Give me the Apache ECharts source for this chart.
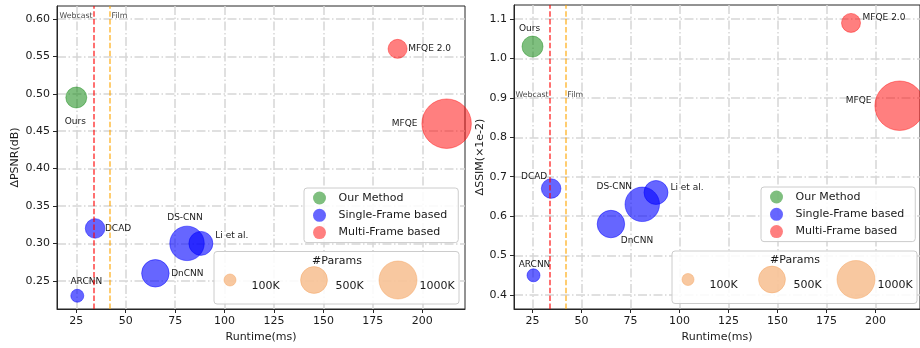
<!DOCTYPE html>
<html>
<head>
<meta charset="utf-8">
<script src="https://cdn.jsdelivr.net/npm/echarts@6/dist/echarts.min.js"></script>
<style>
html,body{margin:0;padding:0;background:#fff;}
#c{width:920px;height:348px;}
</style>
</head>
<body>
<div id="c"></div>
<script>
// ---------------- data ----------------
const methods = ['Ours', 'ARCNN', 'DCAD', 'DnCNN', 'DS-CNN', 'Li et al.', 'MFQE 2.0', 'MFQE'];
const groups  = ['Our Method', 'Single-Frame based', 'Single-Frame based', 'Single-Frame based',
                 'Single-Frame based', 'Single-Frame based', 'Multi-Frame based', 'Multi-Frame based'];
const runtimeMs = [25, 25.5, 34.5, 65, 81, 88, 187.5, 212.3];
const deltaPSNR = [0.495, 0.23, 0.32, 0.26, 0.30, 0.30, 0.56, 0.46];
const deltaSSIM = [1.03, 0.45, 0.67, 0.58, 0.63, 0.66, 1.09, 0.88];
const paramsK   = [306, 117, 265, 525, 825, 400, 251, 1700];
const groupNames = ['Our Method', 'Single-Frame based', 'Multi-Frame based'];
const refNames = ['Webcast', 'Film'];
const refRuntime = [34, 42];
const paramLegendK = [100, 500, 1000];
const paramLegendLabels = ['100K', '500K', '1000K'];
const xTicks = [25, 50, 75, 100, 125, 150, 175, 200];
const psnrTicks = [0.25, 0.30, 0.35, 0.40, 0.45, 0.50, 0.55, 0.60];
const ssimTicks = [0.4, 0.5, 0.6, 0.7, 0.8, 0.9, 1.0, 1.1];

// ---------------- styles / layout ----------------
const FONT = 'DejaVu Sans';
const TXT = '#1a1a1a';
const groupColors = {
  'Our Method': 'rgba(0,128,0,0.5)',
  'Single-Frame based': 'rgba(0,0,255,0.6)',
  'Multi-Frame based': 'rgba(255,0,0,0.5)'
};
const refColors = ['rgba(255,0,0,0.75)', 'rgba(255,165,0,0.75)'];
const peach = 'rgba(244,164,96,0.6)';
function bubble(pk) { return 12 * Math.sqrt(pk / 100); }

const panels = [
  {
    yName: 'ΔPSNR(dB)', values: deltaPSNR, ticks: psnrTicks, dec: 2,
    grid: {left: 57, top: 6, width: 408, height: 304},
    xMin: 15.24, xMax: 221.6, yMin: 0.2123, yMax: 0.6173, yNameGap: 36,
    refLabelY: 0.6044,
    offsets: {'Ours': [-1, 24], 'MFQE 2.0': [32, 0], 'MFQE': [-42, 0], 'DS-CNN': [-2, -26],
              'Li et al.': [31, -8], 'DCAD': [23, 0], 'DnCNN': [32, 0], 'ARCNN': [9, -14]},
    legend: {left: 304, top: 188},
    pbox: {x: 214, y: 251.5}
  },
  {
    yName: 'ΔSSIM(×1e-2)', values: deltaSSIM, ticks: ssimTicks, dec: 1,
    grid: {left: 514, top: 5, width: 410, height: 305},
    xMin: 15.55, xMax: 222.7, yMin: 0.3646, yMax: 1.1354, yNameGap: 20,
    refLabelY: 0.908,
    offsets: {'Ours': [-3, -18], 'MFQE 2.0': [33, -5], 'MFQE': [-41, -5], 'DCAD': [-17, -12],
              'DS-CNN': [-28, -18], 'Li et al.': [31, -5], 'DnCNN': [26, 17], 'ARCNN': [1, -11]},
    legend: {left: 761, top: 187},
    pbox: {x: 672, y: 251}
  }
];

const grids = [], xAxes = [], yAxes = [], series = [], legends = [], graphics = [];
const gridLine = {show: true, lineStyle: {color: '#d6d6d6', width: 1.5, type: [9, 2.5, 1.5, 2.5]}};

panels.forEach((p, pi) => {
  grids.push(Object.assign({show: true, borderColor: '#262626', borderWidth: 1, backgroundColor: 'transparent'}, p.grid));
  xAxes.push({
    gridIndex: pi, type: 'value', min: p.xMin, max: p.xMax,
    name: 'Runtime(ms)', nameLocation: 'middle', nameGap: 23,
    nameTextStyle: {fontFamily: FONT, fontSize: 11, color: TXT},
    axisLine: {show: true, onZero: false, lineStyle: {color: '#262626', width: 1}},
    axisTick: {show: true, length: 4, customValues: xTicks, lineStyle: {color: '#262626'}},
    axisLabel: {customValues: xTicks, margin: 7, fontFamily: FONT, fontSize: 11, color: TXT,
                formatter: v => String(Math.round(v))},
    splitLine: gridLine
  });
  yAxes.push({
    gridIndex: pi, type: 'value', min: p.yMin, max: p.yMax,
    name: p.yName, nameLocation: 'middle', nameGap: p.yNameGap, nameRotate: 90,
    nameTextStyle: {fontFamily: FONT, fontSize: 11, color: TXT},
    axisLine: {show: true, onZero: false, lineStyle: {color: '#262626', width: 1}},
    axisTick: {show: true, length: 4, customValues: p.ticks, lineStyle: {color: '#262626'}},
    axisLabel: {customValues: p.ticks, margin: 7, fontFamily: FONT, fontSize: 11, color: TXT,
                formatter: v => v.toFixed(p.dec)},
    splitLine: gridLine
  });

  groupNames.forEach(g => {
    const data = [];
    methods.forEach((m, i) => {
      if (groups[i] !== g) return;
      data.push({
        name: m,
        value: [runtimeMs[i], p.values[i], paramsK[i]],
        label: {show: true, position: 'inside', offset: p.offsets[m], formatter: m,
                fontFamily: FONT, fontSize: 9, color: TXT}
      });
    });
    series.push({
      type: 'scatter', name: g, xAxisIndex: pi, yAxisIndex: pi,
      symbol: 'circle', symbolSize: v => bubble(v[2]),
      itemStyle: {color: groupColors[g], borderColor: groupColors[g], borderWidth: 0.8, opacity: 1},
      emphasis: {disabled: true}, silent: true, clip: true,
      data
    });
  });

  // reference lines (Webcast / Film)
  series.push({
    type: 'scatter', name: 'ref', xAxisIndex: pi, yAxisIndex: pi, symbolSize: 0, silent: true,
    data: refNames.map((n, i) => ({
      value: [refRuntime[i], p.refLabelY], name: n,
      label: {show: true, formatter: n, position: i === 0 ? 'left' : 'right', distance: 1.5,
              fontFamily: FONT, fontSize: 7.8, color: '#111'}
    })),
    markLine: {
      silent: true, symbol: ['none', 'none'], label: {show: false},
      data: refRuntime.map((x, i) => ({xAxis: x, lineStyle: {color: refColors[i], width: 1.5, type: [5.5, 2.4]}}))
    }
  });

  legends.push({
    orient: 'vertical', left: p.legend.left, top: p.legend.top,
    itemWidth: 28, itemHeight: 13, itemGap: 3.3, padding: [3, 11, 3, 9],
    backgroundColor: 'rgba(255,255,255,0.85)', borderColor: '#cccccc', borderWidth: 1, borderRadius: 3,
    textStyle: {fontFamily: FONT, fontSize: 11, color: TXT, lineHeight: 14},
    itemStyle: {borderWidth: 0},
    icon: 'circle', selectedMode: false, data: groupNames
  });

  // #Params size legend
  const bx = p.pbox.x, by = p.pbox.y;
  graphics.push({type: 'rect', z: 50, shape: {x: bx, y: by, width: 245, height: 52.5, r: 3},
                 style: {fill: 'rgba(255,255,255,0.85)', stroke: '#cccccc', lineWidth: 1}});
  graphics.push({type: 'text', z: 51, x: bx + 123, y: by + 9.5,
                 style: {text: '#Params', align: 'center', verticalAlign: 'middle', font: '11px "DejaVu Sans"', fill: TXT}});
  paramLegendK.forEach((k, i) => {
    graphics.push({type: 'circle', z: 51, shape: {cx: bx + 16 + i * 84, cy: by + 28.5, r: bubble(k) / 2},
                   style: {fill: peach, stroke: peach, lineWidth: 0.8}});
    graphics.push({type: 'text', z: 51, x: bx + 37.5 + i * 84, y: by + 34.5,
                   style: {text: paramLegendLabels[i], align: 'left', verticalAlign: 'middle', font: '11px "DejaVu Sans"', fill: TXT}});
  });
});

const chart = echarts.init(document.getElementById('c'), null, {renderer: 'canvas'});
chart.setOption({
  animation: false,
  backgroundColor: '#ffffff',
  textStyle: {fontFamily: FONT},
  grid: grids, xAxis: xAxes, yAxis: yAxes, legend: legends, series, graphic: graphics
});
</script>
</body>
</html>
